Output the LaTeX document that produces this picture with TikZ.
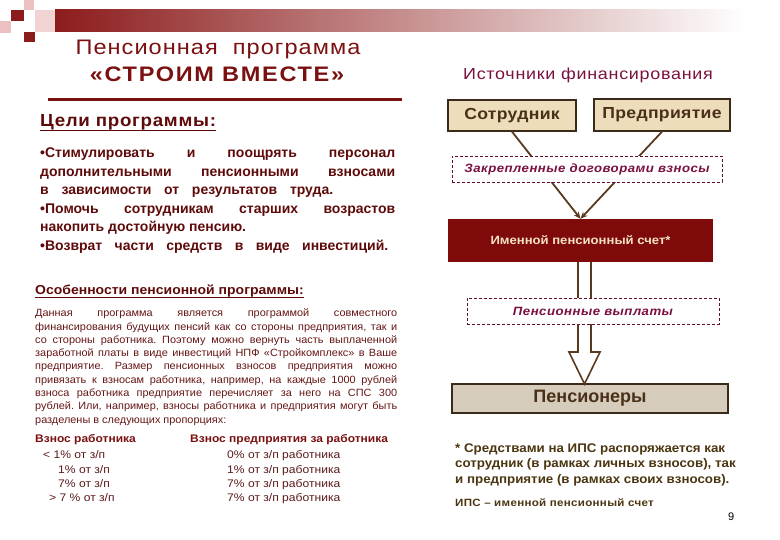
\documentclass[tikz,border=0pt]{standalone}
\usepackage{fontspec}
\setmainfont{Liberation Sans}
\usetikzlibrary{calc,arrows.meta}
\definecolor{barred}{HTML}{8C1C1C}
\definecolor{titlered}{HTML}{7A1010}
\definecolor{goalred}{HTML}{5E0A0A}
\definecolor{parared}{HTML}{651515}
\definecolor{rowred}{HTML}{5A1A1A}
\definecolor{srcred}{HTML}{7A1040}
\definecolor{boxtext}{HTML}{4A3018}
\definecolor{boxfill}{HTML}{EEDDBB}
\definecolor{boxdraw}{HTML}{3A2A1A}
\definecolor{ipsfill}{HTML}{7F0A0A}
\definecolor{ipstext}{HTML}{F3E3C3}
\definecolor{pensfill}{HTML}{D5CCBC}
\definecolor{arrowbrown}{HTML}{5A3A1E}
\definecolor{footbrown}{HTML}{4A3510}
\definecolor{pinkA}{HTML}{EBC0C0}
\newcommand{\jl}[2]{\hbox to #1{#2}}
\newcommand{\fw}[2]{\addfontfeature{FakeStretch=#1,LetterSpace=#2}}
\begin{document}
\frenchspacing
\begin{tikzpicture}[x=1pt,y=-1pt,
  txt/.style={inner sep=0pt,anchor=base west},
  goal/.style={txt,text=goalred,font=\fontsize{14}{16}\selectfont\bfseries},
  para/.style={txt,text=parared,font=\fontsize{10.5}{12}\selectfont\fw{1.04}{0}},
  row/.style={txt,text=rowred,font=\fontsize{11}{12}\selectfont\fw{1.1}{0}},
  srcbox/.style={draw=boxdraw,line width=1.3pt,fill=boxfill,text=boxtext,inner sep=0pt,font=\fontsize{16}{18}\selectfont\bfseries\fw{1.1}{2}},
  dashbox/.style={draw=srcred!80!black,dash pattern=on 3pt off 2pt,line width=0.7pt,fill=white,text=srcred,inner sep=0pt,font=\fontsize{12}{14}\selectfont\bfseries\itshape\fw{1.1}{4}},
  flow/.style={draw=arrowbrown,line width=1.8pt,-{Stealth[length=7pt,width=6pt]}},
  foot/.style={txt,text=footbrown,font=\fontsize{12.5}{14}\selectfont\bfseries\fw{1.065}{0}}
]
\useasboundingbox (0,0) rectangle (780,540);
% decoration
\shade[left color=barred,right color=white] (55,10) rectangle (745,32);
\fill[pinkA!70!white] (35,10) rectangle (55,32);
\fill[barred] (11,10) rectangle (24,21);
\fill[pinkA] (24,0) rectangle (34,10);
\fill[pinkA] (0,21) rectangle (11,33);
\fill[barred] (24,32) rectangle (35,42);
% title
\node[txt,anchor=base,text=titlered,font=\fontsize{21}{24}\selectfont\fw{1.12}{5}] (t1) at (218,55) {Пенсионная\ \ программа};
\node[txt,anchor=base,text=titlered,font=\fontsize{21}{24}\selectfont\bfseries\fw{1.12}{8}] (t2) at (217,82) {«СТРОИМ ВМЕСТЕ»};
\fill[titlered] (48,98) rectangle (402,101);
% goals
\node[txt,text=goalred,font=\fontsize{17.5}{20}\selectfont\bfseries\fw{1.07}{4}] (goals) at (40,127) {Цели программы:};
\draw[goalred,line width=1.5pt] ($(goals.base west)+(0,3.5)$) -- ($(goals.base east)+(0,3.5)$);
\node[goal] (g1) at (40,158) {\jl{355pt}{•Стимулировать и поощрять персонал}};
\node[goal] (g2) at (40,177) {\jl{355pt}{дополнительными пенсионными взносами}};
\node[goal] (g3) at (40,195) {\jl{293pt}{в зависимости от результатов труда.}};
\node[goal] (g4) at (40,214) {\jl{355pt}{•Помочь сотрудникам старших возрастов}};
\node[goal] (g5) at (40,232) {накопить достойную пенсию.};
\node[goal] (g6) at (40,251) {\jl{348pt}{•Возврат части средств в виде инвестиций.}};
% features
\node[txt,text=goalred,font=\fontsize{13}{15}\selectfont\bfseries\fw{1.076}{0}] (feat) at (35,295) {Особенности пенсионной программы:};
\draw[goalred,line width=1.2pt] ($(feat.base west)+(0,2.5)$) -- ($(feat.base east)+(0,2.5)$);
\node[para] (p1) at (35,317) {\jl{362pt}{Данная программа является программой совместного}};
\node[para] (p2) at (35,330.25) {\jl{362pt}{финансирования будущих пенсий как со стороны предприятия, так и}};
\node[para] (p3) at (35,343.5) {\jl{362pt}{со стороны работника. Поэтому можно вернуть часть выплаченной}};
\node[para] (p4) at (35,356.75) {\jl{362pt}{заработной платы в виде инвестиций НПФ «Стройкомплекс» в Ваше}};
\node[para] (p5) at (35,370) {\jl{362pt}{предприятие. Размер пенсионных взносов предприятия можно}};
\node[para] (p6) at (35,383.25) {\jl{362pt}{привязать к взносам работника, например, на каждые 1000 рублей}};
\node[para] (p7) at (35,396.5) {\jl{362pt}{взноса работника предприятие перечисляет за него на СПС 300}};
\node[para] (p8) at (35,409.75) {\jl{362pt}{рублей. Или, например, взносы работника и предприятия могут быть}};
\node[para] (p9) at (35,423) {разделены в следующих пропорциях:};
% table
\node[txt,text=titlered,font=\fontsize{11}{13}\selectfont\bfseries\fw{1.09}{0}] (h1) at (35,442) {Взнос работника};
\node[txt,text=titlered,font=\fontsize{11}{13}\selectfont\bfseries\fw{1.09}{0}] (h2) at (190,442) {Взнос предприятия за работника};
\node[row] (l1) at (43,458) {< 1\% от з/п};
\node[row] (l2) at (58,473) {1\% от з/п};
\node[row] (l3) at (58,487) {7\% от з/п};
\node[row] (l4) at (49,501) {> 7 \% от з/п};
\node[row] (r1) at (227,458) {0\% от з/п работника};
\node[row] (r2) at (227,473) {1\% от з/п работника};
\node[row] (r3) at (227,487) {7\% от з/п работника};
\node[row] (r4) at (227,501) {7\% от з/п работника};
% right side
\node[txt,anchor=base,text=srcred,font=\fontsize{16}{18}\selectfont\fw{1.12}{4.5}] (src) at (588,80) {Источники финансирования};
\node[srcbox,minimum width=128pt,minimum height=31pt] (sotr) at (512,115.5) {Сотрудник};
\node[srcbox,minimum width=136pt,minimum height=32pt] (pred) at (662,115) {Предприятие};
\node[draw=none,fill=ipsfill,text=ipstext,inner sep=0pt,minimum width=265pt,minimum height=43pt,font=\fontsize{12}{14}\selectfont\bfseries\fw{1.09}{0}] (ips) at (580.5,240.5) {Именной пенсионный счет*};
\draw[flow] (sotr.south) -- (ips.north);
\draw[flow] (pred.south) -- (ips.north);
\node[dashbox,minimum width=270pt,minimum height=26pt] (contr) at (587,169) {Закрепленные договорами взносы};
\node[srcbox,fill=pensfill,minimum width=276pt,minimum height=29pt,font=\fontsize{18}{20}\selectfont\bfseries] (pens) at (590,398.5) {Пенсионеры};
\coordinate (tip) at (584.5,384);
\draw[arrowbrown,line width=1.6pt,fill=white,line join=miter]
  ($(ips.south)+(-2.5,0)$) -- ($(tip)+(-6.5,-32)$) -- ($(tip)+(-15.5,-32)$) -- (tip)
  -- ($(tip)+(15.5,-32)$) -- ($(tip)+(6.5,-32)$) -- ($(ips.south)+(10.5,0)$);
\node[dashbox,minimum width=252pt,minimum height=26pt] (pay) at (593,311) {Пенсионные выплаты};
% footnote
\node[foot] (f1) at (455,452) {* Средствами на ИПС распоряжается как};
\node[foot] (f2) at (455,467.5) {сотрудник (в рамках личных взносов), так};
\node[foot] (f3) at (455,483) {и предприятие (в рамках своих взносов).};
\node[txt,text=footbrown,font=\fontsize{10.5}{12}\selectfont\bfseries\fw{1.1}{3}] (f4) at (455,506) {ИПС – именной пенсионный счет};
\node[txt,text=black,font=\fontsize{11}{12}\selectfont] (pg) at (728,520) {9};
\end{tikzpicture}
\end{document}
